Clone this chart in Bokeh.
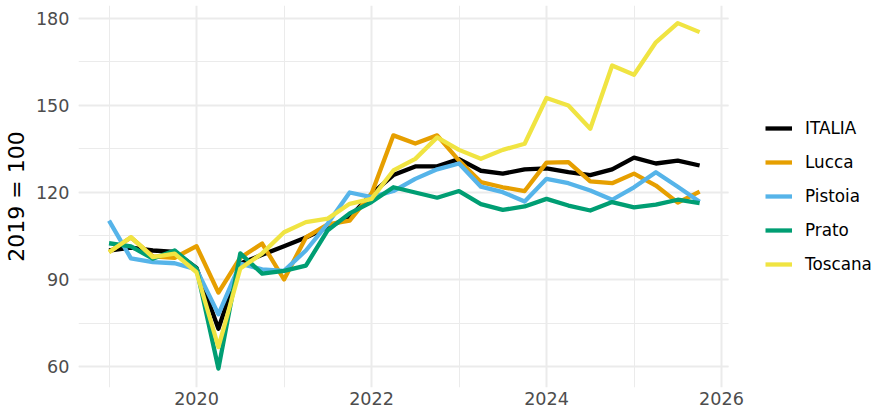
from bokeh.plotting import figure
from bokeh.models import FixedTicker, Legend, LegendItem, SingleIntervalTicker, Range1d
from bokeh.embed import file_html
from bokeh.resources import INLINE

# Quarterly periods 2019Q1 .. 2025Q4
years = [2019, 2020, 2021, 2022, 2023, 2024, 2025]
quarters = [1, 2, 3, 4]
periods = [(y, q) for y in years for q in quarters]
x = [y + (q - 1) / 4 for (y, q) in periods]

italia = [100.0, 101.0, 100.0, 99.5, 94.0, 73.0, 95.5, 98.5, 101.5, 104.5, 108.0, 111.5, 119.5, 126.0,
          129.0, 129.0, 131.5, 127.5, 126.5, 128.0, 128.3, 127.0, 126.0, 128.0, 132.0, 130.0, 131.0, 129.3]
lucca = [99.5, 104.5, 98.0, 97.5, 101.5, 85.5, 97.5, 102.4, 90.0, 104.5, 109.0, 110.3, 119.6, 139.7,
         136.9, 139.7, 131.0, 123.6, 121.8, 120.5, 130.3, 130.5, 123.8, 123.2, 126.5, 122.4, 116.5, 120.3]
pistoia = [110.3, 97.3, 96.0, 95.6, 93.5, 78.0, 95.5, 93.5, 93.0, 100.0, 109.3, 120.0, 118.4, 120.5,
           124.7, 128.0, 130.0, 122.0, 120.1, 116.9, 124.7, 123.2, 120.7, 117.5, 121.8, 127.0, 122.0, 116.8]
prato = [102.5, 101.4, 97.2, 100.0, 93.8, 59.3, 99.0, 92.0, 93.0, 94.8, 107.0, 112.8, 116.7, 121.8,
         120.0, 118.2, 120.5, 116.0, 114.0, 115.2, 117.8, 115.5, 113.8, 116.7, 114.9, 115.8, 117.5, 116.3]
toscana = [99.4, 104.6, 97.7, 98.9, 92.5, 66.7, 93.8, 99.0, 106.3, 109.8, 111.0, 116.1, 117.8, 127.6,
           131.6, 139.0, 134.7, 131.6, 134.7, 136.8, 152.6, 150.0, 142.0, 163.8, 160.6, 171.8, 178.4, 175.3]

series_names = ["ITALIA", "Lucca", "Pistoia", "Prato", "Toscana"]
series_values = [italia, lucca, pistoia, prato, toscana]
series_colors = ["#000000", "#E69F00", "#56B4E9", "#009E73", "#F0E442"]

x_major = [2020, 2022, 2024, 2026]
x_minor = [2019, 2021, 2023, 2025]

# panel (data area) limits in data units
X_PANEL = (2018.651, 2026.08)

FONT = "DejaVu Sans"

p = figure(width=875, height=412,
           min_border_left=78, min_border_right=0, min_border_top=5, min_border_bottom=25,
           x_range=Range1d(2018.651, 2027.76), y_range=Range1d(52.76, 184.48),
           output_backend="svg", toolbar_location=None)
p.outline_line_color = None
p.background_fill_color = "white"
p.border_fill_color = "white"

p.xaxis.ticker = FixedTicker(ticks=x_major, minor_ticks=x_minor)
p.yaxis.ticker = SingleIntervalTicker(interval=30, num_minor_ticks=2)

for ax in (p.xaxis, p.yaxis):
    ax.axis_line_color = None
    ax.major_tick_line_color = None
    ax.minor_tick_line_color = None
    ax.major_tick_out = 0
    ax.minor_tick_out = 0
    ax.major_label_text_font = FONT
    ax.major_label_text_font_size = "17.6px"
    ax.major_label_text_color = "#4D4D4D"

p.xaxis.major_label_standoff = 4
p.yaxis.major_label_standoff = 9
p.yaxis.axis_label = "2019 = 100"
p.yaxis.axis_label_text_font = FONT
p.yaxis.axis_label_text_font_size = "22px"
p.yaxis.axis_label_text_font_style = "normal"
p.yaxis.axis_label_text_color = "#000000"
p.yaxis.axis_label_standoff = 4

for g in (p.xgrid, p.ygrid):
    g.grid_line_color = "#EBEBEB"
    g.grid_line_width = 2
    g.minor_grid_line_color = "#EBEBEB"
    g.minor_grid_line_width = 1
p.ygrid.cross_bounds = X_PANEL

items = []
for name, vals, col in zip(series_names, series_values, series_colors):
    r = p.line(x, vals, line_color=col, line_width=4.3, line_join="round")
    items.append(LegendItem(label=name, renderers=[r]))

legend = Legend(items=items, location=(687, 113))
legend.margin = 0
legend.padding = 0
legend.border_line_color = None
legend.background_fill_alpha = 0
legend.glyph_width = 27
legend.glyph_height = 20
legend.label_height = 20
legend.spacing = 14
legend.label_standoff = 13
legend.label_text_font = FONT
legend.label_text_font_size = "16.8px"
legend.label_text_color = "#000000"
p.add_layout(legend)

open("out.html", "w").write(file_html(p, INLINE))
